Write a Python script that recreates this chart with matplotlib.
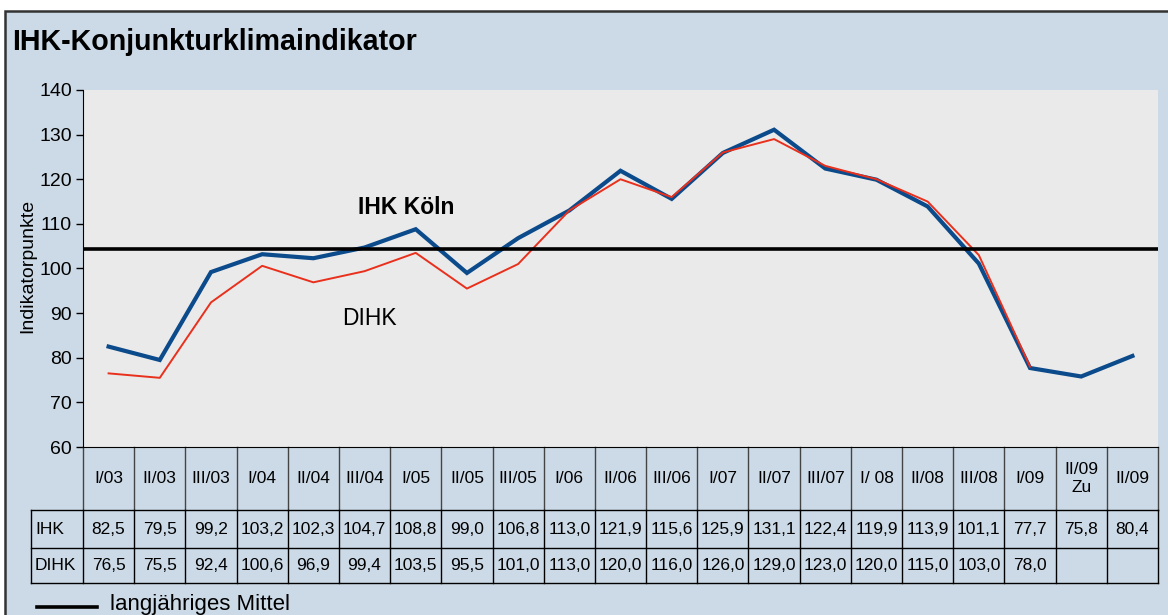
import matplotlib
matplotlib.use("Agg")
import matplotlib.pyplot as plt
import matplotlib.transforms as mtransforms
from matplotlib.patches import Rectangle
from matplotlib.lines import Line2D
import numpy as np

quarters = ["I/03", "II/03", "III/03", "I/04", "II/04", "III/04", "I/05", "II/05",
            "III/05", "I/06", "II/06", "III/06", "I/07", "II/07", "III/07", "I/ 08",
            "II/08", "III/08", "I/09", "II/09\nZu", "II/09"]
ihk = [82.5, 79.5, 99.2, 103.2, 102.3, 104.7, 108.8, 99.0, 106.8, 113.0, 121.9,
       115.6, 125.9, 131.1, 122.4, 119.9, 113.9, 101.1, 77.7, 75.8, 80.4]
dihk = [76.5, 75.5, 92.4, 100.6, 96.9, 99.4, 103.5, 95.5, 101.0, 113.0, 120.0,
        116.0, 126.0, 129.0, 123.0, 120.0, 115.0, 103.0, 78.0]
mittel = 104.3

plt.rcParams['font.family'] = ['Liberation Sans', 'DejaVu Sans']

W, H = 1168, 615
fig = plt.figure(figsize=(W / 100, H / 100), dpi=100)
fig.patch.set_facecolor('white')
bg = '#CCDAE7'
fig.add_artist(Rectangle((5 / W, -0.05), 1.2, 1.05 - 11 / H, transform=fig.transFigure,
                         facecolor=bg, edgecolor='#333333', linewidth=1.8, zorder=-5))


def px(x, y):
    return x / W, 1 - y / H


fig.text(*px(12, 50), "IHK-Konjunkturklimaindikator", fontsize=20.6, fontweight='bold',
         va='baseline', ha='left')

ax = fig.add_axes([83 / W, 1 - 447 / H, 1075 / W, 357 / H])
ax.set_facecolor('#EAEAEA')
x = np.arange(len(ihk))
ax.plot(x, ihk, color='#0B4A8B', lw=3.0, solid_joinstyle='miter', zorder=3)
ax.plot(x[:len(dihk)], dihk, color='#E8301C', lw=1.4, zorder=4)
ax.axhline(mittel, color='black', lw=2.6, zorder=5)
ax.set_xlim(-0.5, len(quarters) - 0.5)
ax.set_ylim(60, 140)
ax.set_yticks(range(60, 141, 10))
ax.set_xticks([])
ax.tick_params(axis='y', labelsize=14, length=5, width=1, pad=3)
for s in ['top', 'right']:
    ax.spines[s].set_visible(False)
ax.spines['left'].set_color('black')
ax.spines['bottom'].set_color('black')

fig.text(*px(28, 266), "Indikatorpunkte", rotation=90, fontsize=14, ha='center', va='center')

ax.text(5.81, 113.6, "IHK Köln", fontsize=16.5, fontweight='bold', ha='center', va='center')
ax.text(5.1, 88.9, "DIHK", fontsize=16.5, ha='center', va='center')

# table under the axis
tr = mtransforms.blended_transform_factory(ax.transData, ax.transAxes)
n = len(quarters)
colw = 1075 / n
y0, y1, y2, y3 = 0, -63 / 357, -101.3 / 357, -136.3 / 357
xl = -0.5 - 52 / colw
xr = n - 0.5
edges = np.arange(n + 1) - 0.5


def tline(xs, ys, color='black', lw=1.0):
    ax.add_line(Line2D(xs, ys, transform=tr, color=color, lw=lw, clip_on=False))


for e in edges:
    tline([e, e], [y0, y1], color='#444444')
    tline([e, e], [y1, y3])
tline([xl, xl], [y1, y3])
for yy in (y1, y2, y3):
    tline([xl, xr], [yy, yy])

for i, q in enumerate(quarters):
    ax.text(i, (y0 + y1) / 2, q, transform=tr, ha='center', va='center', fontsize=12.5,
            linespacing=1.2)
    ax.text(i, (y1 + y2) / 2, f"{ihk[i]:.1f}".replace('.', ','), transform=tr,
            ha='center', va='center', fontsize=12.5)
    if i < len(dihk):
        ax.text(i, (y2 + y3) / 2, f"{dihk[i]:.1f}".replace('.', ','), transform=tr,
                ha='center', va='center', fontsize=12.5)
ax.text(xl + 0.08, (y1 + y2) / 2, "IHK", transform=tr, ha='left', va='center', fontsize=12.5)
ax.text(xl + 0.08, (y2 + y3) / 2, "DIHK", transform=tr, ha='left', va='center', fontsize=12.5)

# legend
fig.add_artist(Line2D([37 / W, 97 / W], [1 - 606.5 / H] * 2, color='black', lw=2.6,
                      transform=fig.transFigure))
fig.text(*px(110, 610), "langjähriges Mittel", fontsize=16, va='baseline', ha='left')

fig.savefig("out.png", dpi=100, facecolor=fig.get_facecolor())
